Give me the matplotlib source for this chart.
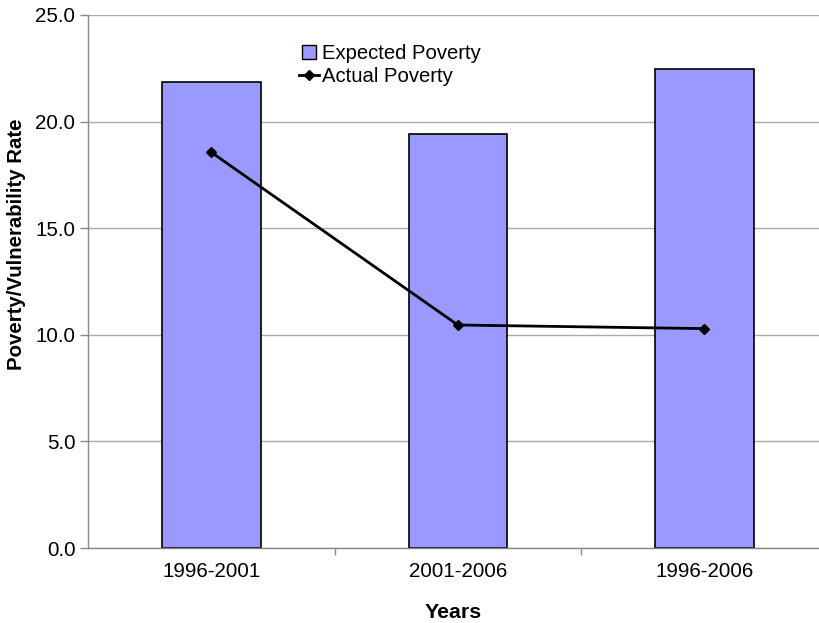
import matplotlib.pyplot as plt
from matplotlib.lines import Line2D
import numpy as np

plt.rcParams['font.family'] = ['Liberation Sans', 'DejaVu Sans']

periods = ['1996-2001', '2001-2006', '1996-2006']
expected = [21.86, 19.40, 22.47]
actual = [18.56, 10.46, 10.29]

fig = plt.figure(figsize=(8.19, 6.23), dpi=100)
ax = fig.add_axes([88 / 819, 1 - 548 / 623, 1 - 88 / 819, (548 - 15) / 623])

x = np.arange(len(periods))
ax.bar(x, expected, width=0.4, color='#9999ff', edgecolor='black', linewidth=1.2, zorder=2)
ax.plot(x, actual, color='black', linewidth=2, marker='D', markersize=5, zorder=3)

ax.set_xlim(-0.5, 2.465)
ax.set_ylim(0, 25)
ax.set_yticks(np.arange(0, 25.1, 5))
ax.set_yticklabels(['%.1f' % v for v in np.arange(0, 25.1, 5)])
ax.set_xticks(x)
ax.set_xticklabels(periods)
ax.set_xticks([0.5, 1.5], minor=True)
ax.tick_params(axis='x', which='major', length=0, pad=10, labelsize=14.8)
ax.tick_params(axis='x', which='minor', length=5, color='#888888', width=1)
ax.tick_params(axis='y', length=6, color='#888888', width=1, pad=3, labelsize=14.8)

ax.yaxis.grid(True, color='#aaaaaa', linewidth=1)
ax.set_axisbelow(True)
for s in ['top', 'right']:
    ax.spines[s].set_visible(False)
for s in ['left', 'bottom']:
    ax.spines[s].set_color('#888888')
    ax.spines[s].set_linewidth(1)

ax.set_xlabel('Years', fontsize=15.3, fontweight='bold', labelpad=16)
ax.set_ylabel('Poverty/Vulnerability Rate', fontsize=14.7, fontweight='bold')
ax.yaxis.set_label_coords(-0.085, 0.57)

handles = [
    Line2D([], [], linestyle='none', marker='s', markersize=9.5,
           markerfacecolor='#9999ff', markeredgecolor='black', markeredgewidth=1),
    Line2D([], [], color='black', linewidth=2, marker='D', markersize=5),
]
ax.legend(handles, ['Expected Poverty', 'Actual Poverty'], loc='upper left',
          bbox_to_anchor=(0.275, 0.964), frameon=False, fontsize=14.6,
          handlelength=1.0, handletextpad=0.15, labelspacing=0.2, borderpad=0)

fig.savefig('out.png', dpi=100)
